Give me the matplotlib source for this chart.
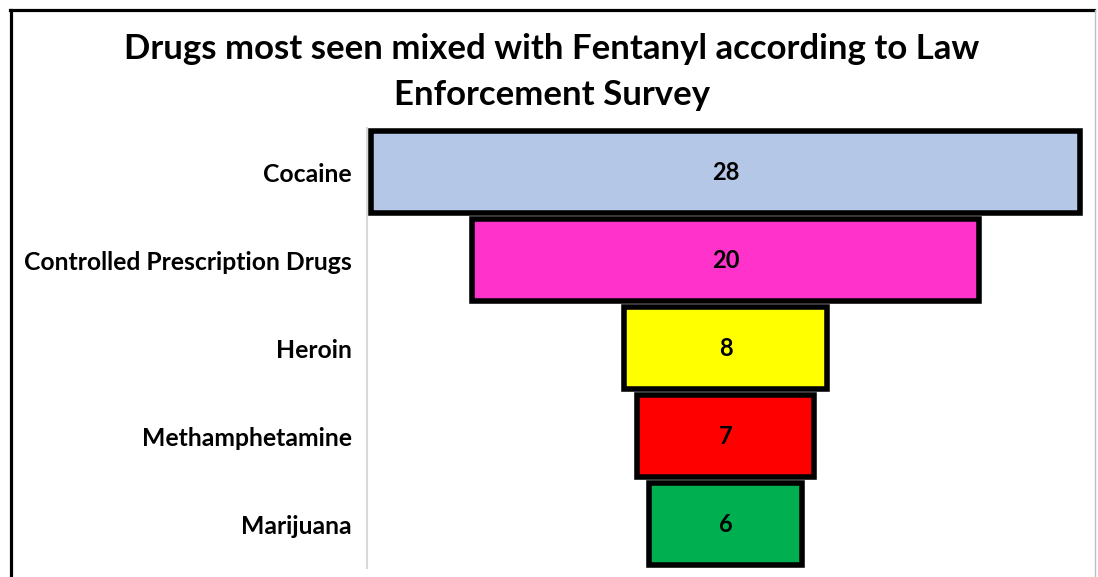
import matplotlib
matplotlib.use("Agg")
import matplotlib.pyplot as plt
from matplotlib.lines import Line2D

categories = ["Cocaine", "Controlled Prescription Drugs", "Heroin", "Methamphetamine", "Marijuana"]
values = [28, 20, 8, 7, 6]
colors = ["#B4C7E7", "#FF33CC", "#FFFF00", "#FF0000", "#00B050"]
title = "Drugs most seen mixed with Fentanyl according to Law\nEnforcement Survey"

plt.rcParams["font.family"] = ["Lato", "DejaVu Sans"]

W, H = 1098, 577
fig = plt.figure(figsize=(W / 100, H / 100), dpi=100)

# plot area in pixel terms
left_px, right_px, top_px, bottom_px = 367, 1084, 128, 568
ax = fig.add_axes([left_px / W, 1 - bottom_px / H,
                   (right_px - left_px) / W, (bottom_px - top_px) / H])

vmax = max(values)
lefts = [(vmax - v) / 2 for v in values]
ypos = list(range(len(categories)))
ax.barh(ypos, values, left=lefts, height=0.943, color=colors,
        edgecolor="black", linewidth=4, zorder=3)

for y, v, l in zip(ypos, values, lefts):
    ax.text(l + v / 2, y, str(v), ha="center", va="center",
            fontsize=17, fontweight="bold", color="black", zorder=4)

ax.set_xlim(-0.14, vmax + 0.14)
ax.set_ylim(len(categories) - 0.5, -0.5)
ax.set_yticks(ypos)
ax.set_yticklabels(categories, fontsize=17.8, fontweight="bold")
ax.tick_params(axis="y", length=0, pad=11)
ax.set_xticks([])
for side in ["top", "right", "bottom"]:
    ax.spines[side].set_visible(False)
ax.spines["left"].set_color("#d9d9d9")
ax.spines["left"].set_linewidth(1.5)

fig.text(552 / W, 1 - 72 / H, title, ha="center", va="center",
         fontsize=25, fontweight="bold", linespacing=1.52)

# chart frame
fig.add_artist(Line2D([10.5 / W, 10.5 / W], [0, 1 - 9.5 / H], color="black", lw=2.3,
                      transform=fig.transFigure))
fig.add_artist(Line2D([9.5 / W, 1094 / W], [1 - 9.5 / H, 1 - 9.5 / H], color="black", lw=2.3,
                      transform=fig.transFigure))
fig.add_artist(Line2D([1095 / W, 1095 / W], [0, 1 - 9.5 / H], color="#bfbfbf", lw=1,
                      transform=fig.transFigure))

fig.savefig("out.png", dpi=100, facecolor="white")
